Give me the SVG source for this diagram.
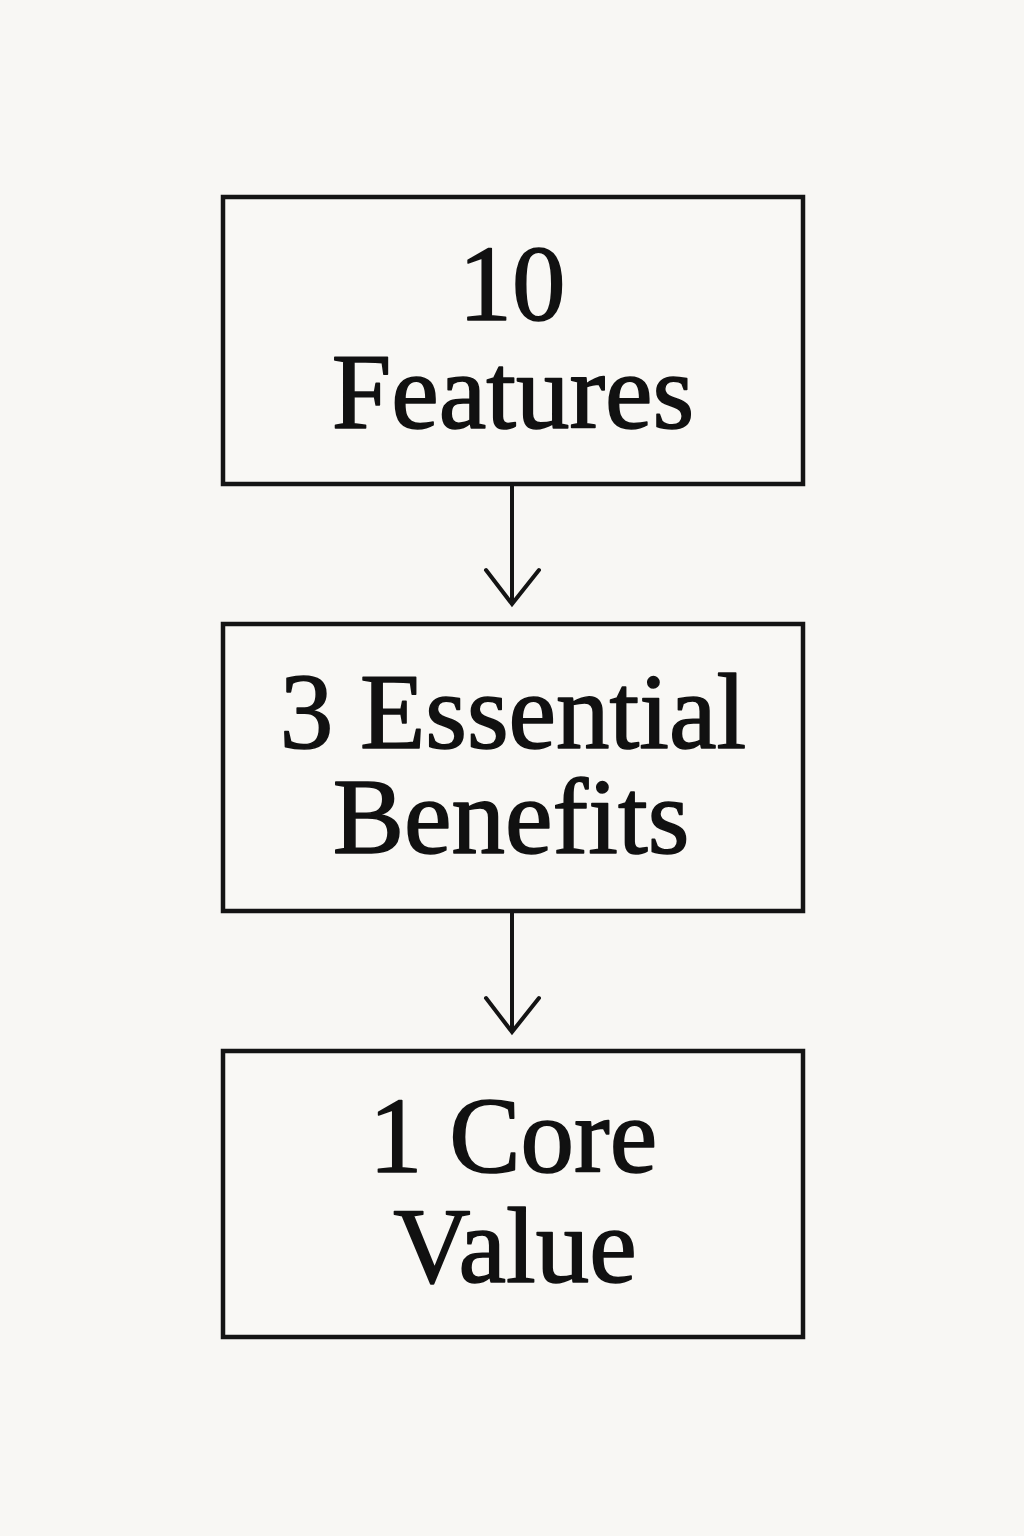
<svg xmlns="http://www.w3.org/2000/svg" width="1024" height="1536" viewBox="0 0 1024 1536">
<style>
.box{fill:#f9f8f5;stroke:#141414;stroke-width:4.5}
.t{font-family:"Liberation Serif","Times New Roman",serif;font-size:107px;fill:#111;stroke:#111;stroke-width:1.6;stroke-linejoin:round;text-anchor:middle}
.c{fill:none;stroke:#141414;stroke-width:4;stroke-linecap:round;stroke-linejoin:miter}
</style>
<rect width="1024" height="1536" fill="#f8f7f4"/>
<g id="node-features">
<rect class="box" x="223" y="197" width="580" height="287"/>
<text class="t" x="512" y="320">10</text>
<text class="t" x="513" y="428">Features</text>
</g>
<g id="node-benefits">
<rect class="box" x="223" y="624" width="580" height="287"/>
<text class="t" x="513" y="748">3 Essential</text>
<text class="t" x="511" y="853">Benefits</text>
</g>
<g id="node-value">
<rect class="box" x="223" y="1051" width="580" height="286"/>
<text class="t" x="513" y="1172">1 Core</text>
<text class="t" x="515" y="1282">Value</text>
</g>
<g id="connectors">
<path class="c" d="M512 486 V603"/>
<path class="c" d="M486 570 L512 604 L539 570"/>
<path class="c" d="M512 913 V1031"/>
<path class="c" d="M486 998 L512 1032 L539 998"/>
</g>
</svg>
